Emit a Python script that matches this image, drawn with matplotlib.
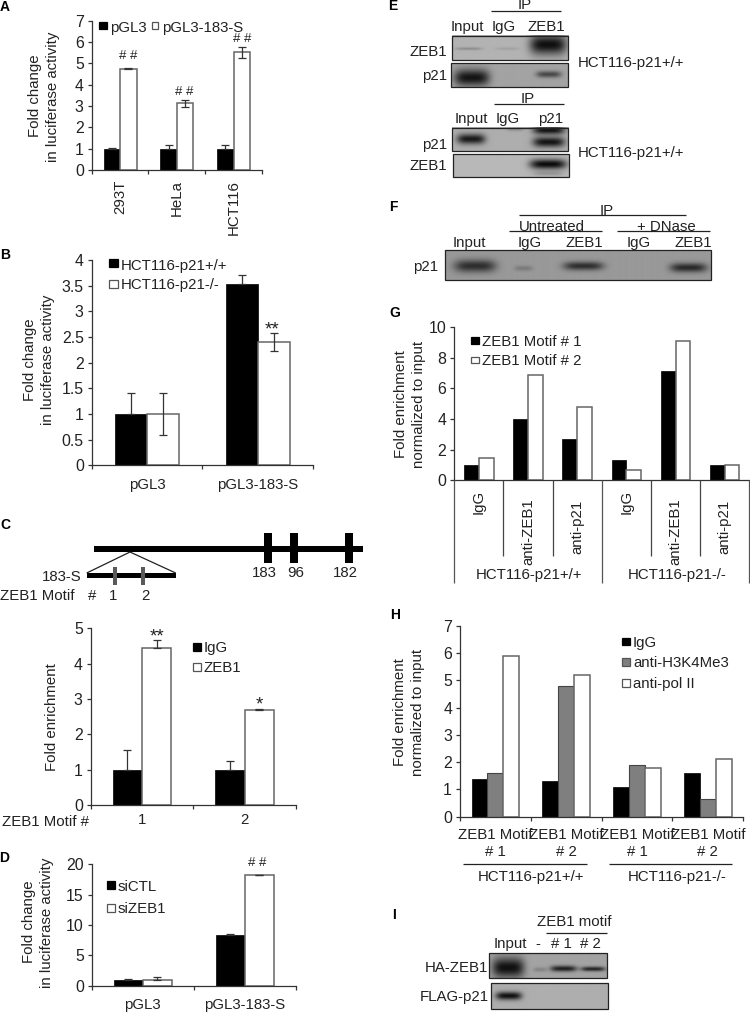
import numpy as np
import matplotlib
matplotlib.use("Agg")
import matplotlib.pyplot as plt
from matplotlib.patches import Rectangle

plt.rcParams['font.family'] = ['Liberation Sans', 'DejaVu Sans']
W, H = 750, 1013
FS = 10.8
TC = '#222222'

# ---------- data ----------
a_cats = ['293T', 'HeLa', 'HCT116']
a_pgl3 = [1, 1, 1]
a_pgl3_err = [0.03, 0.17, 0.17]
a_183s = [4.75, 3.12, 5.52]
a_183s_err = [0.01, 0.15, 0.27]

b_cats = ['pGL3', 'pGL3-183-S']
b_wt = [1, 3.53]
b_wt_err = [0.4, 0.17]
b_ko = [1, 2.4]
b_ko_err = [0.4, 0.17]

c_cats = ['1', '2']
c_igg = [1, 1]
c_igg_err = [0.57, 0.24]
c_zeb = [4.43, 2.7]
c_zeb_err = [0.23, 0.02]

d_cats = ['pGL3', 'pGL3-183-S']
d_ctl = [1, 8.4]
d_ctl_err = [0.15, 0.1]
d_si = [1, 18.2]
d_si_err = [0.5, 0.0]

g_cats = ['IgG', 'anti-ZEB1', 'anti-p21', 'IgG', 'anti-ZEB1', 'anti-p21']
g_m1 = [1, 4, 2.7, 1.35, 7.15, 1]
g_m2 = [1.45, 6.85, 4.8, 0.65, 9.1, 1]

h_cats = ['ZEB1 Motif\n# 1', 'ZEB1 Motif\n# 2', 'ZEB1 Motif\n# 1', 'ZEB1 Motif\n# 2']
h_igg = [1.4, 1.3, 1.1, 1.6]
h_h3 = [1.6, 4.8, 1.9, 0.65]
h_pol = [5.9, 5.2, 1.8, 2.1]

fig = plt.figure(figsize=(W / 100, H / 100), dpi=100, facecolor='white')


def make_ax(x0, x1, ytop, ybot, ymax, yticks, yfmt, cats):
    ax = fig.add_axes([x0 / W, 1 - ybot / H, (x1 - x0) / W, (ybot - ytop) / H])
    n = len(cats)
    ax.set_xlim(0, n)
    ax.set_ylim(0, ymax)
    ax.set_yticks(yticks)
    ax.set_yticklabels(yfmt, fontsize=FS + 0.6, color=TC)
    ax.set_xticks(np.arange(n) + 0.5)
    ax.set_xticklabels(cats, fontsize=FS, color=TC)
    ax.set_xticks(np.arange(n + 1), minor=True)
    ax.tick_params(axis='x', which='major', length=0)
    ax.tick_params(axis='x', which='minor', length=3.2, width=0.9, color='#333333')
    ax.tick_params(axis='y', length=3.2, width=0.9, color='#333333', pad=2.5)
    for s in ('top', 'right'):
        ax.spines[s].set_visible(False)
    for s in ('left', 'bottom'):
        ax.spines[s].set_color('#333333')
        ax.spines[s].set_linewidth(0.9)
    ax.patch.set_alpha(0)
    return ax


def pair(ax, v1, v2, w, e1=None, e2=None, two_sided=False):
    x = np.arange(len(v1)) + 0.5
    ax.bar(x - w / 2, v1, w, color='black', edgecolor='black', linewidth=0.5, zorder=2)
    ax.bar(x + w / 2, v2, w, color='white', edgecolor='#666666', linewidth=1.1, zorder=2)
    ekw = dict(fmt='none', ecolor='#333333', elinewidth=0.9, capsize=3.2, capthick=0.9, zorder=3)
    for xx, vals, err, lower in ((x - w / 2, v1, e1, False), (x + w / 2, v2, e2, two_sided)):
        if err is not None:
            low = err if lower else [0] * len(err)
            ax.errorbar(xx, vals, yerr=[low, err], **ekw)


# Panel A
axA = make_ax(91.7, 262, 20.7, 170, 7, range(8), [str(i) for i in range(8)], a_cats)
pair(axA, a_pgl3, a_183s, 0.29, a_pgl3_err, a_183s_err, True)
plt.setp(axA.get_xticklabels(), rotation=90, va='top')
axA.tick_params(axis='x', which='major', pad=7)

# Panel B
ylB = ['0', '0.5', '1', '1.5', '2', '2.5', '3', '3.5', '4']
axB = make_ax(91.7, 313, 260, 465.3, 4, np.arange(0, 4.5, 0.5), ylB, b_cats)
pair(axB, b_wt, b_ko, 0.29, b_wt_err, b_ko_err, True)
axB.tick_params(axis='x', which='major', pad=9)

# Panel C
axC = make_ax(90.7, 296, 628.3, 805, 5, range(6), [str(i) for i in range(6)], c_cats)
pair(axC, c_igg, c_zeb, 0.287, c_igg_err, c_zeb_err)
axC.tick_params(axis='x', which='major', pad=6)

# Panel D
axD = make_ax(91.7, 296, 864.3, 985.7, 20, range(0, 25, 5), [str(i) for i in range(0, 25, 5)], d_cats)
pair(axD, d_ctl, d_si, 0.285, d_ctl_err, d_si_err)
axD.tick_params(axis='x', which='major', pad=9)

# Panel G
axG = make_ax(454.3, 749.3, 327, 480.3, 10, range(0, 12, 2), [str(i) for i in range(0, 12, 2)], g_cats)
pair(axG, g_m1, g_m2, 0.3)
axG.tick_params(axis='x', which='minor', length=0)
plt.setp(axG.get_xticklabels(), rotation=90, va='top')
for tk, p in zip(axG.xaxis.get_major_ticks(), [7, 13, 14, 7, 13, 14]):
    tk.set_pad(p)

# Panel H
axH = make_ax(460, 743.3, 626, 816.7, 7, range(8), [str(i) for i in range(8)], h_cats)
xh = np.arange(4) + 0.5
wh = 0.224
axH.bar(xh - wh, h_igg, wh, color='black', edgecolor='black', linewidth=0.5, zorder=2)
axH.bar(xh, h_h3, wh, color='#7f7f7f', edgecolor='#444444', linewidth=0.8, zorder=2)
axH.bar(xh + wh, h_pol, wh, color='white', edgecolor='#666666', linewidth=1.1, zorder=2)
axH.tick_params(axis='x', which='major', pad=8)
plt.setp(axH.get_xticklabels(), linespacing=1.25)

# ---------- overlay in pixel coordinates ----------
ov = fig.add_axes([0, 0, 1, 1], zorder=10)
ov.patch.set_alpha(0)
ov.axis('off')


def T(x, y, s, ha='center', size=FS, **kw):
    kw.setdefault('color', TC)
    ov.text(x, y, s, ha=ha, va='center', fontsize=size, **kw)


def L(x0, y0, x1, y1, c='#222222', lw=0.9):
    ov.plot([x0, x1], [y0, y1], color=c, lw=lw, solid_capstyle='butt')


def R(x0, y0, x1, y1, fc, ec='none', lw=0.9):
    ov.add_patch(Rectangle((x0, y0), x1 - x0, y1 - y0, facecolor=fc, edgecolor=ec, linewidth=lw))


def blot(ox, oy, box, bg, bands):
    """box and bands are given in 3x crop coordinates."""
    x0, y0, x1, y1 = box
    xs = np.linspace(x0, x1, int((x1 - x0)))
    ys = np.linspace(y0, y1, int((y1 - y0)))
    X, Y = np.meshgrid(xs, ys)
    img = np.full(X.shape, float(bg))
    for cx, cy, w, h, d in bands:
        img -= d * np.exp(-((X - cx) / (w / 2)) ** 4) * np.exp(-((Y - cy) / (h / 2)) ** 2)
    img = np.clip(img, 0, 1)
    ext = (ox + x0 / 3, ox + x1 / 3, oy + y1 / 3, oy + y0 / 3)
    ov.imshow(img, cmap='gray', vmin=0, vmax=1, extent=ext, aspect='auto', interpolation='bilinear', zorder=1)
    ov.add_patch(Rectangle((ext[0], ext[3]), ext[1] - ext[0], ext[2] - ext[3], fill=False,
                           edgecolor='#222222', linewidth=0.9, zorder=2))


# panel letters
for x, y, s in [(5, 7, 'A'), (5, 255, 'B'), (5, 525, 'C'), (4, 857.5, 'D'), (393, 6, 'E'),
                (393, 207, 'F'), (395, 312.7, 'G'), (395, 615, 'H'), (394, 915, 'I')]:
    T(x, y, s, size=10, weight='bold', color='black')

# y labels
for x, y, s in [(35, 96, 'Fold change'), (52.7, 97, 'in luciferase activity'),
                (30, 360, 'Fold change'), (48, 360, 'in luciferase activity'),
                (51.7, 717, 'Fold enrichment'),
                (29, 921.7, 'Fold change'), (46.7, 922.5, 'in luciferase activity'),
                (400.7, 404, 'Fold enrichment'), (419.3, 404.7, 'normalized to input'),
                (400, 712, 'Fold enrichment'), (418.3, 712.3, 'normalized to input')]:
    T(x, y, s, rotation=90)

# legends
def leg(x0, x1, y0, y1, fc, tx, ty, s):
    R(x0, y0, x1, y1, fc, ec='black' if fc == 'black' else '#555555')
    T(tx, ty, s, ha='left')

leg(99.3, 106.7, 21.7, 29.3, 'black', 110, 27.5, 'pGL3')
leg(151.7, 158.3, 21.7, 29.3, 'white', 162, 27.5, 'pGL3-183-S')
leg(109, 117.7, 258.5, 266.7, 'black', 120.5, 266, 'HCT116-p21+/+')
leg(109, 117.7, 280, 287.7, 'white', 120.5, 285, 'HCT116-p21-/-')
leg(193.3, 201, 642.7, 650.7, 'black', 204, 647.7, 'IgG')
leg(193.3, 201, 663, 671, 'white', 204, 668, 'ZEB1')
leg(106.7, 115, 881, 889, 'black', 118, 886.7, 'siCTL')
leg(106.7, 115, 904, 911.7, 'white', 118, 909, 'siZEB1')
leg(471, 479.3, 337.3, 344.3, 'black', 482, 342.3, 'ZEB1 Motif # 1')
leg(471, 479.3, 356.7, 363.3, 'white', 482, 361.3, 'ZEB1 Motif # 2')
leg(621.7, 630, 637.7, 645, 'black', 633, 643.3, 'IgG')
leg(621.7, 630, 658.3, 666, '#7f7f7f', 633, 663.3, 'anti-H3K4Me3')
leg(621.7, 630, 679.3, 686.7, 'white', 633, 684.3, 'anti-pol II')

# significance marks
for x, y, s in [(128, 56, '# #'), (184.5, 91.5, '# #'), (242, 38.7, '# #'), (257, 863.3, '# #')]:
    T(x, y, s, size=9.5)
for x, y, s in [(272.3, 330, '**'), (156.7, 637, '**'), (259.3, 705, '*')]:
    T(x, y, s, size=13.5)

# panel C diagram
R(94, 546, 362.7, 552, 'black')
for a, b in [(263.7, 271.7), (290, 297.7), (345.3, 352.7)]:
    R(a, 533, b, 563, 'black')
for x, s in [(264, '183'), (296, '96'), (345.7, '182')]:
    T(x, 573, s)
L(130, 552, 86.7, 573)
L(130, 552, 175.7, 573)
R(86.7, 572.5, 175.7, 577.5, 'black')
for x in (114.7, 142.7):
    R(x - 2, 567, x + 2, 584.7, '#5a5a5a')
T(82, 577, '183-S', ha='right')
T(0, 596, 'ZEB1 Motif', ha='left')
T(92, 596, '#')
T(113, 596, '1')
T(145, 596, '2')
T(2, 821.7, 'ZEB1 Motif #', ha='left')

# panel G grouped axis
for i in range(1, 6):
    if i != 3:
        x = 454.3 + i * 295 / 6
        L(x, 480.3, x, 556, '#444444')
for x in (454.3, 602, 749.3):
    L(x, 480.3, x, 583, '#555555')
T(529.3, 575.3, 'HCT116-p21+/+')
T(676.7, 575.3, 'HCT116-p21-/-')

# panel H grouped axis
L(463.3, 864, 586.7, 864)
L(609, 864, 731.7, 864)
T(530.7, 877.3, 'HCT116-p21+/+')
T(676.7, 877.3, 'HCT116-p21-/-')

# panel E
T(524.3, 5, 'IP'); L(491, 11.3, 561, 11.3)
T(467.7, 26.7, 'Input'); T(504, 26.7, 'IgG'); T(546.7, 26.7, 'ZEB1')
T(446.7, 51.7, 'ZEB1', ha='right'); T(447.3, 76, 'p21', ha='right')
T(577.7, 62.7, 'HCT116-p21+/+', ha='left')
blot(400, 0, (155, 107, 505, 180), 0.7, [(205, 147, 80, 8, 0.15), (320, 147, 70, 8, 0.07), (443, 135, 110, 58, 0.64)])
blot(400, 0, (153, 188, 505, 260), 0.64, [(215, 232, 105, 50, 0.56), (445, 222, 75, 20, 0.36)])
T(528, 99, 'IP'); L(494.3, 104.3, 564, 104.3)
T(471, 119.3, 'Input'); T(507.3, 119.3, 'IgG'); T(551, 119.3, 'p21')
T(447, 145, 'p21', ha='right'); T(446.7, 166, 'ZEB1', ha='right')
T(577.7, 152.7, 'HCT116-p21+/+', ha='left')
blot(400, 0, (155, 383, 505, 453), 0.68, [(212, 418, 85, 30, 0.58), (445, 392, 95, 24, 0.6),
                                          (445, 427, 95, 30, 0.6), (345, 390, 50, 10, 0.12)])
blot(400, 0, (158, 462, 508, 530), 0.72, [(443, 492, 110, 30, 0.68), (443, 520, 90, 14, 0.12)])

# panel F
T(606.7, 210.7, 'IP'); L(519, 215, 686, 215)
T(552.3, 227.3, 'Untreated'); L(509, 230.7, 602.3, 230.7)
T(666.7, 227.3, '+ DNase'); L(616.7, 230.7, 710, 230.7)
T(469, 243.3, 'Input'); T(530, 243.3, 'IgG'); T(584, 243.3, 'ZEB1')
T(639, 243.3, 'IgG'); T(693.3, 243.3, 'ZEB1')
T(438.3, 266.7, 'p21', ha='right')
blot(400, 0, (135, 750, 932, 840), 0.6, [(225, 798, 125, 38, 0.42), (370, 805, 55, 16, 0.12),
                                         (550, 798, 120, 26, 0.42), (865, 803, 110, 28, 0.44)])

# panel I
T(574, 922.3, 'ZEB1 motif'); L(545.7, 933.3, 606.7, 933.3)
T(510.7, 944.3, 'Input'); T(537.7, 944.3, '-'); T(561.7, 944.3, '# 1'); T(590.7, 944.3, '# 2')
T(487.7, 967.7, 'HA-ZEB1', ha='right'); T(489, 997.3, 'FLAG-p21', ha='right')
blot(370, 610, (358, 1028, 712, 1103), 0.64, [(415, 1072, 95, 60, 0.58), (510, 1078, 40, 14, 0.12),
                                              (580, 1075, 78, 18, 0.52), (668, 1076, 72, 14, 0.5)])
blot(370, 610, (362, 1120, 715, 1197), 0.68, [(415, 1158, 78, 24, 0.62)])

ov.set_xlim(0, W)
ov.set_ylim(H, 0)

fig.savefig('out.png', dpi=100, facecolor='white')
